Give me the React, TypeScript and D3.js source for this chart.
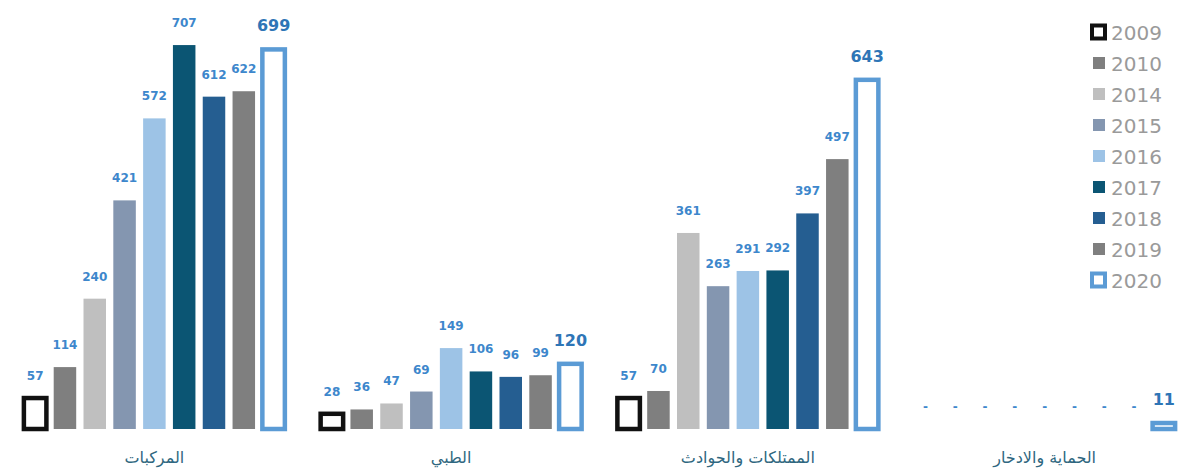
import * as d3 from 'd3';

const categories = ['المركبات', 'الطبي', 'الممتلكات والحوادث', 'الحماية والادخار'];
const years = ['2009', '2010', '2014', '2015', '2016', '2017', '2018', '2019', '2020'];

// values per category, one per year
const vehicles = [57, 114, 240, 421, 572, 707, 612, 622, 699];
const medical = [28, 36, 47, 69, 149, 106, 96, 99, 120];
const property = [57, 70, 361, 263, 291, 292, 397, 497, 643];
const protection = [0, 0, 0, 0, 0, 0, 0, 0, 11];

const values = [vehicles, medical, property, protection];

const fills = ['#ffffff', '#7f7f7f', '#bfbfbf', '#8496b0', '#9dc3e6', '#0b5573', '#255e91', '#7f7f7f', '#ffffff'];
const strokes: Record<string, string> = { '2009': '#111111', '2020': '#5b9bd5' };

const W = 1190;
const H = 473;
const BASE = 429;

export default function App() {
  const x0 = d3.scaleBand<string>().domain(categories).range([6, 1193]).padding(0);
  const x1 = d3.scaleBand<string>()
    .domain(years)
    .range([0, x0.bandwidth()])
    .paddingInner(0.245)
    .paddingOuter(0.6);
  const y = d3.scaleLinear().domain([0, 790]).range([BASE, 0]);
  const bw = x1.bandwidth();

  const legendY = d3.scalePoint<string>().domain(years).range([32, 280]);

  return (
    <svg
      width={W}
      height={H}
      viewBox={`0 0 ${W} ${H}`}
      style={{ position: 'absolute', left: 0, top: 0, background: '#fff' }}
    >
      {categories.map((cat, ci) => {
        const gx = x0(cat) ?? 0;
        return (
          <g key={cat} transform={`translate(${gx},0)`}>
            {years.map((yr, i) => {
              const v = values[ci][i];
              const bx = x1(yr) ?? 0;
              const top = y(v);
              const outline = strokes[yr];
              const isLast = yr === '2020';
              return (
                <g key={yr}>
                  {v > 0 &&
                    (outline ? (
                      <rect
                        x={bx}
                        y={top}
                        width={bw}
                        height={BASE - top}
                        fill="#fff"
                        stroke={outline}
                        strokeWidth={4.5}
                      />
                    ) : (
                      <rect x={bx} y={top} width={bw} height={BASE - top} fill={fills[i]} />
                    ))}
                  <text
                    x={bx + bw / 2}
                    y={top - 18}
                    textAnchor="middle"
                    fontFamily="DejaVu Sans"
                    fontWeight="bold"
                    fontSize={isLast ? 16 : 12}
                    fill={isLast ? '#2e75b6' : '#3d87cc'}
                  >
                    {v === 0 ? '-' : v}
                  </text>
                </g>
              );
            })}
            <text
              x={x0.bandwidth() / 2}
              y={463}
              textAnchor="middle"
              fontFamily="DejaVu Sans"
              fontSize={16}
              fill="#2f6780"
            >
              {cat}
            </text>
          </g>
        );
      })}

      {/* legend */}
      <g>
        {years.map((yr, i) => {
          const cy = legendY(yr) ?? 0;
          const outline = strokes[yr];
          return (
            <g key={yr}>
              {outline ? (
                <rect x={1092} y={cy - 6.5} width={13} height={13} fill="#fff" stroke={outline} strokeWidth={4} />
              ) : (
                <rect x={1093} y={cy - 6} width={12} height={12} fill={fills[i]} />
              )}
              <text x={1111} y={cy + 7.5} fontFamily="DejaVu Sans" fontSize={20} fill="#9a9a9a">
                {yr}
              </text>
            </g>
          );
        })}
      </g>
    </svg>
  );
}
